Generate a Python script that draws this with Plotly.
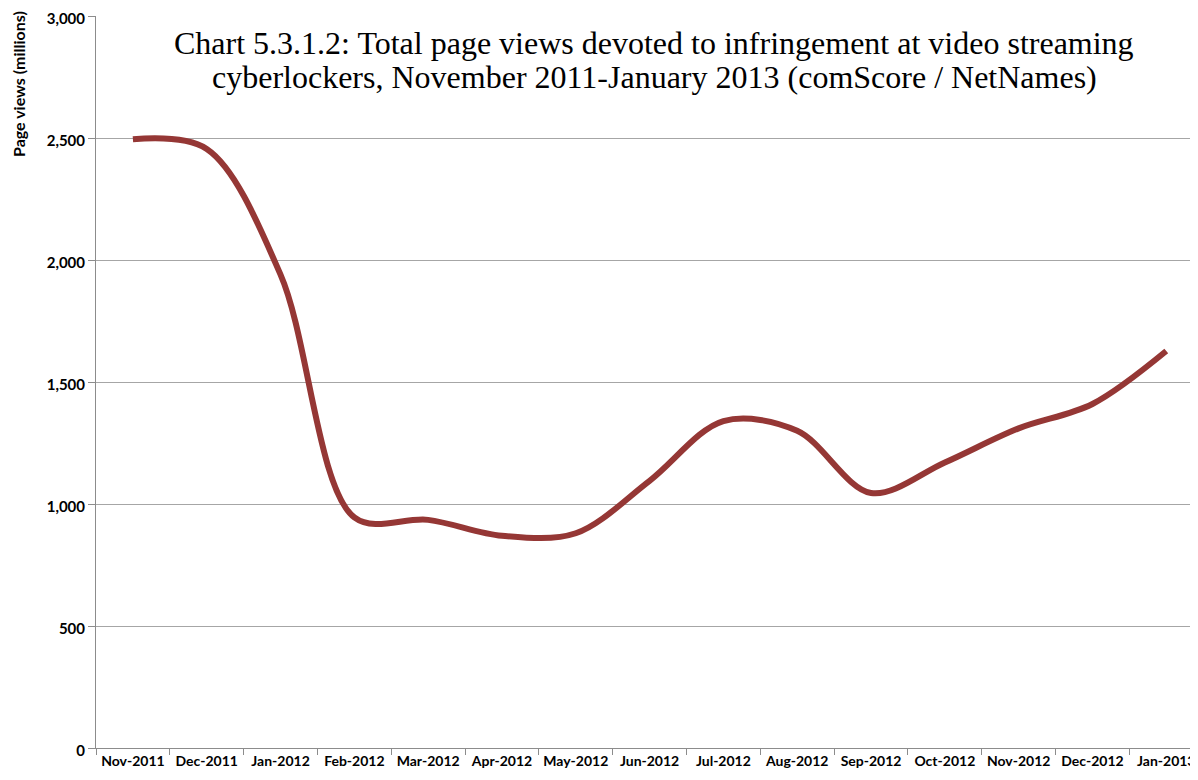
import plotly.graph_objects as go

months = ["Nov-2011", "Dec-2011", "Jan-2012", "Feb-2012", "Mar-2012", "Apr-2012", "May-2012",
          "Jun-2012", "Jul-2012", "Aug-2012", "Sep-2012", "Oct-2012", "Nov-2012", "Dec-2012", "Jan-2013"]
page_views = [2495, 2455, 1940, 945, 935, 870, 880, 1095, 1340, 1300, 1045, 1170, 1310, 1410, 1627]
y_ticks = [0, 500, 1000, 1500, 2000, 2500, 3000]

fig = go.Figure()
fig.add_trace(go.Scatter(
    x=months, y=page_views, mode="lines",
    line=dict(color="#953735", width=6, shape="spline", smoothing=0.95),
    hoverinfo="x+y", showlegend=False,
))

# page body has an 8px margin; figure sits at (8, 8)
W, H = 1190, 772
L, T, B = 88, 8, 32
fig.update_layout(
    width=W, height=H,
    margin=dict(l=L, r=0, t=T, b=B, autoexpand=False),
    paper_bgcolor="white", plot_bgcolor="white",
    font=dict(family="Lato", color="#000000"),
    separators=".,",
    showlegend=False,
)
fig.update_xaxes(
    type="category", range=[-0.5, 14.43], tickangle=0, automargin=False,
    ticklabeloverflow="allow",
    tickson="boundaries", ticks="outside", ticklen=6, tickcolor="#8c8c8c", tickwidth=1,
    showgrid=False, showline=True, linecolor="#8c8c8c", linewidth=1,
    tickfont=dict(family="Lato", size=14, color="#000000", weight="bold"),
    fixedrange=True,
)
fig.update_yaxes(
    range=[0, 3000], tickvals=y_ticks, tickformat=",d", automargin=False,
    ticklabeloverflow="allow", ticklabelshift=3,
    ticks="outside", ticklen=7, tickcolor="#8c8c8c", tickwidth=1,
    showgrid=True, gridcolor="#a6a6a6", gridwidth=1,
    showline=True, linecolor="#8c8c8c", linewidth=1, zeroline=False,
    tickfont=dict(family="Lato", size=15, color="#000000", weight="bold"),
    fixedrange=True,
)

pw = 1102
ph = 732


def px_x(page_x):
    return (page_x - 96) / pw


def px_y(page_y):
    return (748 - page_y) / ph


fig.add_annotation(
    text="Chart 5.3.1.2: Total page views devoted to infringement at video streaming",
    xref="paper", yref="paper", x=px_x(654), y=px_y(43),
    xanchor="center", yanchor="middle", showarrow=False,
    font=dict(family="Liberation Serif", size=32, color="#000000"),
)
fig.add_annotation(
    text="cyberlockers, November 2011-January 2013 (comScore / NetNames)",
    xref="paper", yref="paper", x=px_x(654), y=px_y(77),
    xanchor="center", yanchor="middle", showarrow=False,
    font=dict(family="Liberation Serif", size=32, color="#000000"),
)
fig.add_annotation(
    text="Page views (millions)", textangle=-90,
    xref="paper", yref="paper", x=px_x(18), y=px_y(84),
    xanchor="center", yanchor="middle", showarrow=False,
    font=dict(family="Lato", size=16, color="#000000", weight="bold"),
)

fig.write_html("out.html")
